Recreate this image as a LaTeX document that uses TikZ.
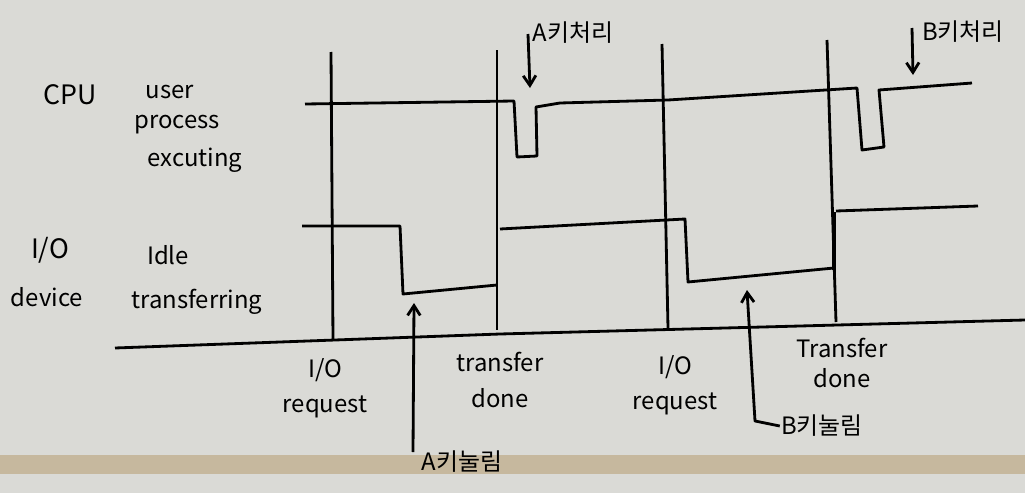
\documentclass[tikz,border=0pt]{standalone}
\usepackage{fontspec}
\setmainfont{Noto Sans CJK KR}
\usetikzlibrary{arrows.meta}
\definecolor{paper}{RGB}{218,218,214}
\definecolor{tape}{RGB}{198,184,158}

\begin{document}
\begin{tikzpicture}[x=0.025cm,y=-0.025cm,line width=2pt,line join=round,
  >={Straight Barb[length=7pt,width=9pt]},
  lbl/.style={font=\fontsize{17}{19}\selectfont,inner sep=0pt,align=center}]
  \fill[paper] (0,0) rectangle (1025,493);
  \fill[tape] (0,455) rectangle (1025,474);
  \useasboundingbox (0,0) rectangle (1025,493);
  % time axis and event lines
  \draw (115,348)--(500,334)--(1025,320);
  \draw (331,52)--(333,340);
  \draw (497,50)--(497,330);
  \draw (662,44)--(668,328);
  \draw (827,40)--(836,322);
  % CPU
  \draw (305,104)--(514,101)--(517,157)--(537,156)--(536,107)--(560,103)
        --(668,100)--(857,88)--(862,150)--(884,147)--(879,90)--(972,83);
  % I/O device
  \draw (302,226)--(400,226)--(403,294)--(497,285);
  \draw (500,229)--(685,219)--(688,282)--(834,268);
  \draw[line width=3.5pt] (834,270)--(834,212);
  \draw (836,211)--(978,206);
  % row labels
  \node[lbl,font=\fontsize{19}{21}\selectfont] (cpu) at (70,95) {CPU};
  \node[lbl] (usr) at (170,92) {user};
  \node[lbl] (prc) at (177,125) {process};
  \node[lbl] (exe) at (195,160) {excuting};
  \node[lbl,font=\fontsize{19}{21}\selectfont] (io) at (50,250) {I/O};
  \node[lbl] (dev) at (47,297) {device};
  \node[lbl] (idl) at (168,255) {Idle};
  \node[lbl] (trf) at (197,302) {transferring};
  % event labels
  \node[lbl] (req1) at (325,388) {I/O\\[6pt]request};
  \node[lbl] (done1) at (500,380) {transfer\\[6pt]done};
  \node[lbl] (req2) at (675,385) {I/O\\[6pt]request};
  \node[lbl] (done2) at (842,363) {Transfer\\[2pt]done};
  % key events
  \node[lbl] (aproc) at (573,33) {A키처리};
  \node[lbl] (bproc) at (963,32) {B키처리};
  \node[lbl] (apress) at (462,462) {A키눌림};
  \node[lbl] (bpress) at (822,426) {B키눌림};
  \coordinate (a1) at (530,88);
  \coordinate (b1) at (913,75);
  \coordinate (a2) at (414,303);
  \coordinate (b2) at (747,290);
  \draw[->] (528,34)--(a1);
  \draw[->] (912,28)--(b1);
  \draw[->] (413,452)--(a2);
  \draw[->] (bpress.west)--(755,421)--(b2);
\end{tikzpicture}
\end{document}
